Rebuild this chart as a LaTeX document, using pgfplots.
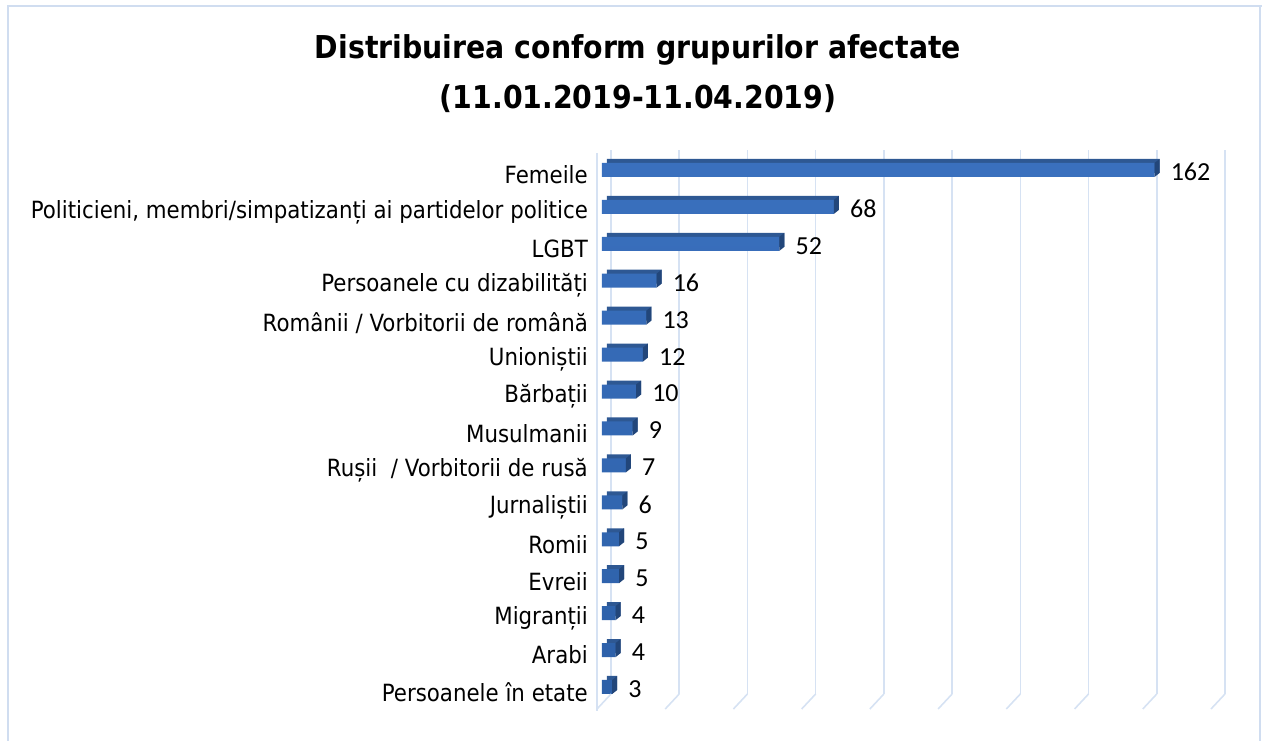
\documentclass[border=0pt]{standalone}
\usepackage{pgfplots}
\usepackage{pgfplotstable}
\pgfplotsset{compat=1.18}
\usepackage{fontspec}
\setmainfont{DejaVu Sans}[FakeStretch=0.9]
\newfontfamily\numfont{Carlito}
\definecolor{gridb}{HTML}{D6E2F3}
\definecolor{frameb}{HTML}{D0DDF0}
\definecolor{bartop}{HTML}{3A70BE}
\definecolor{barmid}{HTML}{4584D4}
\definecolor{barbot}{HTML}{2D60A8}
\definecolor{barback}{HTML}{2E5893}
\definecolor{capcol}{HTML}{22467A}
\pgfdeclareplotmark{cap}{%
  \pgfpathmoveto{\pgfqpoint{-5pt}{-11pt}}%
  \pgfpathlineto{\pgfqpoint{0pt}{-7pt}}%
  \pgfpathlineto{\pgfqpoint{0pt}{7pt}}%
  \pgfpathlineto{\pgfqpoint{-5pt}{3pt}}%
  \pgfpathclose\pgfusepathqfill}
\pgfplotstableread{
val idx
162 14
68 13
52 12
16 11
13 10
12 9
10 8
9 7
7 6
6 5
5 4
5 3
4 2
4 1
3 0
}\datatable
\begin{document}
\begin{tikzpicture}[x=1pt,y=1pt]
\path[use as bounding box] (0,0) rectangle (1262,740);
\draw[frameb, line width=2pt] (8,-10) -- (8,734) -- (1270,734);
\draw[frameb, line width=2pt] (1260,734) -- (1260,-10);
\node[font=\bfseries\fontsize{31.5}{36}\selectfont] at (638,690) {Distribuirea conform grupurilor afectate};
\node[font=\bfseries\fontsize{31.5}{36}\selectfont] at (638,641) {(11.01.2019-11.04.2019)};
\draw[gridb, line width=1.6pt] (597,587) -- (597,29);
\begin{axis}[at={(611pt,46pt)}, anchor=south west, scale only axis,
  width=614pt, height=544pt,
  xmin=0, xmax=180, ymin=-0.19, ymax=14.54,
  axis line style={draw=none}, major tick length=0pt,
  xtick={0,20,...,180}, xticklabels={},
  xmajorgrids, grid style={gridb, line width=1.6pt},
  ytick={0,...,14},
  yticklabels={Persoanele în etate\hspace{20pt}, Arabi\hspace{4pt}, Migranții\hspace{6pt}, Evreii, Romii\hspace{6pt}, Jurnaliștii, Rușii\ \ / Vorbitorii de rusă, Musulmanii\hspace{6pt}, Bărbații, Unioniștii\hspace{6pt}, Românii / Vorbitorii de română, Persoanele cu dizabilități\hspace{6pt}, LGBT\hspace{22pt}, {Politicieni, membri/simpatizanți ai partidelor politice}, Femeile},
  yticklabel style={anchor=east, inner sep=0pt, xshift=-23pt, yshift=-5pt, font=\fontsize{23.7}{28}\selectfont},
  xbar, bar shift=0pt, clip=false,
  /pgf/number format/assume math mode=true]
\addplot[fill=barback, draw=none, bar width=14pt, xshift=-4pt, yshift=4pt,
  mark=cap, mark options={fill=capcol, draw=none}] table[x=val,y=idx]{\datatable};
\addplot[shading=axis, top color=bartop, middle color=barmid, bottom color=barbot, draw=none, bar width=14pt, xshift=-9pt] table[x=val,y=idx]{\datatable};
\addplot[draw=none, fill=none, bar width=14pt, xshift=-9pt, nodes near coords,
  every node near coord/.style={anchor=west, inner sep=0pt, xshift=16pt, yshift=-2pt, font=\numfont\fontsize{26}{30}\selectfont, text=black}] table[x=val,y=idx]{\datatable};
\pgfplotsinvokeforeach{0,20,...,180}{\draw[gridb, line width=1.6pt] (axis cs:#1,-0.19) -- ++(-14pt,-15pt);}
\end{axis}
\end{tikzpicture}
\end{document}
